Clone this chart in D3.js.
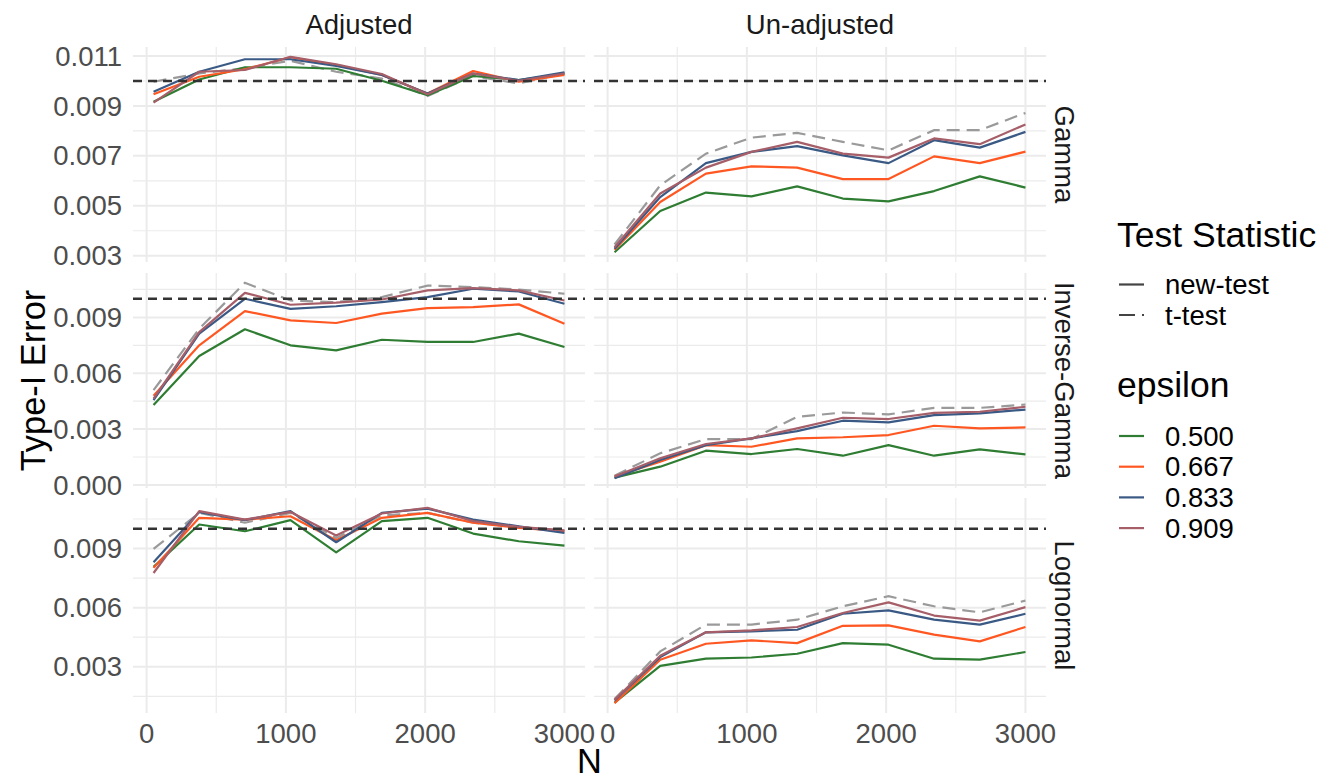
<!DOCTYPE html>
<html>
<head>
<meta charset="utf-8">
<script src="https://cdn.jsdelivr.net/npm/d3@7"></script>
<style>
  body { margin: 0; background: #fff; }
  svg { font-family: "Liberation Sans", Arial, Helvetica, sans-serif; }
</style>
</head>
<body>
<svg id="chart" width="1335" height="781"></svg>
<script>
// sample sizes
const N = [50, 378, 706, 1033, 1361, 1689, 2017, 2344, 2672, 3000];
const epsilons = ["0.500", "0.667", "0.833", "0.909"];
const dists = ["Gamma", "Inverse-Gamma", "Lognormal"];
const adjusts = ["Adjusted", "Un-adjusted"];
const alpha = 0.01;

// new-test, one array per epsilon (0.500, 0.667, 0.833, 0.909)
const gammaAdjNew = [
  [0.00917, 0.01006, 0.01055, 0.01055, 0.01049, 0.01001, 0.00943, 0.01020, 0.01004, 0.01030],
  [0.00947, 0.01017, 0.01047, 0.01095, 0.01064, 0.01024, 0.00950, 0.01040, 0.00997, 0.01024],
  [0.00957, 0.01037, 0.01087, 0.01087, 0.01060, 0.01024, 0.00950, 0.01030, 0.01004, 0.01035],
  [0.00913, 0.01037, 0.01044, 0.01097, 0.01067, 0.01028, 0.00947, 0.01030, 0.01001, 0.01030]
];
const gammaUnNew = [
  [0.00314, 0.00479, 0.00553, 0.00538, 0.00578, 0.00529, 0.00518, 0.00559, 0.00618, 0.00573],
  [0.00324, 0.00515, 0.00629, 0.00658, 0.00653, 0.00607, 0.00607, 0.00698, 0.00671, 0.00717],
  [0.00328, 0.00535, 0.00671, 0.00716, 0.00739, 0.00702, 0.00671, 0.00763, 0.00733, 0.00796],
  [0.00334, 0.00549, 0.00653, 0.00716, 0.00756, 0.00709, 0.00693, 0.00770, 0.00747, 0.00826]
];
const invGammaAdjNew = [
  [0.00429, 0.00693, 0.00836, 0.00750, 0.00723, 0.00780, 0.00768, 0.00768, 0.00813, 0.00741],
  [0.00479, 0.00750, 0.00934, 0.00884, 0.00870, 0.00920, 0.00950, 0.00955, 0.00970, 0.00866],
  [0.00455, 0.00813, 0.01000, 0.00946, 0.00960, 0.00982, 0.01009, 0.01054, 0.01039, 0.00973],
  [0.00464, 0.00821, 0.01032, 0.00968, 0.00979, 0.00996, 0.01045, 0.01057, 0.01045, 0.00991]
];
const invGammaUnNew = [
  [0.00039, 0.00098, 0.00184, 0.00166, 0.00193, 0.00157, 0.00214, 0.00157, 0.00191, 0.00164],
  [0.00045, 0.00125, 0.00214, 0.00205, 0.00250, 0.00256, 0.00268, 0.00318, 0.00304, 0.00309],
  [0.00036, 0.00134, 0.00214, 0.00250, 0.00289, 0.00345, 0.00336, 0.00375, 0.00384, 0.00405],
  [0.00045, 0.00143, 0.00220, 0.00250, 0.00304, 0.00361, 0.00354, 0.00387, 0.00393, 0.00420]
];
const lognormAdjNew = [
  [0.00807, 0.01022, 0.00988, 0.01044, 0.00881, 0.01039, 0.01056, 0.00976, 0.00937, 0.00915],
  [0.00802, 0.01056, 0.01047, 0.01064, 0.00942, 0.01056, 0.01081, 0.01031, 0.01005, 0.00988],
  [0.00830, 0.01085, 0.01044, 0.01090, 0.00932, 0.01081, 0.01103, 0.01047, 0.01013, 0.00980],
  [0.00776, 0.01090, 0.01047, 0.01086, 0.00966, 0.01078, 0.01107, 0.01039, 0.01010, 0.00992]
];
const lognormUnNew = [
  [0.00118, 0.00305, 0.00341, 0.00347, 0.00366, 0.00420, 0.00412, 0.00341, 0.00336, 0.00375],
  [0.00115, 0.00336, 0.00417, 0.00434, 0.00420, 0.00508, 0.00510, 0.00463, 0.00429, 0.00502],
  [0.00129, 0.00349, 0.00475, 0.00480, 0.00488, 0.00569, 0.00586, 0.00539, 0.00514, 0.00569],
  [0.00132, 0.00356, 0.00475, 0.00485, 0.00502, 0.00573, 0.00627, 0.00560, 0.00534, 0.00603]
];

// t-test
const gammaAdjT = [0.00997, 0.01030, 0.01052, 0.01081, 0.01037, 0.01010, 0.00940, 0.01020, 0.00990, 0.01030];
const gammaUnT = [0.00345, 0.00582, 0.00709, 0.00773, 0.00792, 0.00756, 0.00722, 0.00803, 0.00803, 0.00872];
const invGammaAdjT = [0.00509, 0.00839, 0.01086, 0.00991, 0.00982, 0.01009, 0.01071, 0.01063, 0.01050, 0.01027];
const invGammaUnT = [0.00050, 0.00170, 0.00246, 0.00246, 0.00366, 0.00389, 0.00379, 0.00414, 0.00414, 0.00432];
const lognormAdjT = [0.00898, 0.01081, 0.01031, 0.01081, 0.00954, 0.01068, 0.01081, 0.01031, 0.01010, 0.00988];
const lognormUnT = [0.00136, 0.00378, 0.00514, 0.00514, 0.00539, 0.00607, 0.00658, 0.00607, 0.00576, 0.00636];

const newTest = [[gammaAdjNew, gammaUnNew], [invGammaAdjNew, invGammaUnNew], [lognormAdjNew, lognormUnNew]];
const tTest = [[gammaAdjT, gammaUnT], [invGammaAdjT, invGammaUnT], [lognormAdjT, lognormUnT]];

// axis breaks
const xBreaks = [0, 1000, 2000, 3000];
const xMinor = [500, 1500, 2500];
const yBreaks = [
  [0.003, 0.005, 0.007, 0.009, 0.011],
  [0.000, 0.003, 0.006, 0.009],
  [0.003, 0.006, 0.009]
];
const yMinor = [
  [0.004, 0.006, 0.008, 0.010],
  [0.0015, 0.0045, 0.0075, 0.0105],
  [0.0015, 0.0045, 0.0075, 0.0105]
];

const epsColors = ["#2E7D32", "#FF5722", "#3A5A85", "#A65E68"];
const tColor = "#9A9A9A";

const svg = d3.select("#chart");
const colX = [133, 594], panelW = 452;
const rowY = [47, 273, 498], panelH = 215;

function expand(ext) {
  const pad = (ext[1] - ext[0]) * 0.05;
  return [ext[0] - pad, ext[1] + pad];
}

const x = d3.scaleLinear().domain(expand(d3.extent(N))).range([0, panelW]);

const yScales = dists.map((d, r) => {
  const vals = [];
  for (let c = 0; c < 2; c++) {
    newTest[r][c].forEach(s => vals.push(...s));
    vals.push(...tTest[r][c]);
  }
  return d3.scaleLinear().domain(expand(d3.extent(vals))).range([panelH, 0]);
});

const line = (y) => d3.line().x((d, i) => x(N[i])).y(d => y(d));

dists.forEach((dist, r) => {
  const y = yScales[r];
  adjusts.forEach((adj, c) => {
    const g = svg.append("g").attr("transform", `translate(${colX[c]},${rowY[r]})`);

    // grid
    g.selectAll(".ymin").data(yMinor[r]).enter().append("line")
      .attr("x1", 0).attr("x2", panelW).attr("y1", d => y(d)).attr("y2", d => y(d))
      .attr("stroke", "#EBEBEB").attr("stroke-width", 1.2);
    g.selectAll(".xmin").data(xMinor).enter().append("line")
      .attr("y1", 0).attr("y2", panelH).attr("x1", d => x(d)).attr("x2", d => x(d))
      .attr("stroke", "#EBEBEB").attr("stroke-width", 1.2);
    g.selectAll(".ymaj").data(yBreaks[r]).enter().append("line")
      .attr("x1", 0).attr("x2", panelW).attr("y1", d => y(d)).attr("y2", d => y(d))
      .attr("stroke", "#EBEBEB").attr("stroke-width", 2);
    g.selectAll(".xmaj").data(xBreaks).enter().append("line")
      .attr("y1", 0).attr("y2", panelH).attr("x1", d => x(d)).attr("x2", d => x(d))
      .attr("stroke", "#EBEBEB").attr("stroke-width", 2);

    // t-test
    g.append("path").datum(tTest[r][c])
      .attr("d", line(y)).attr("fill", "none")
      .attr("stroke", tColor).attr("stroke-width", 2.2)
      .attr("stroke-dasharray", "13,7");

    // new-test by epsilon
    newTest[r][c].forEach((s, k) => {
      g.append("path").datum(s)
        .attr("d", line(y)).attr("fill", "none")
        .attr("stroke", epsColors[k]).attr("stroke-width", 2.2)
        .attr("stroke-linejoin", "round");
    });

    // nominal level
    g.append("line")
      .attr("x1", 0).attr("x2", panelW).attr("y1", y(alpha)).attr("y2", y(alpha))
      .attr("stroke", "#333").attr("stroke-width", 2.5).attr("stroke-dasharray", "9,6");

    // y axis labels on left column
    if (c === 0) {
      g.selectAll(".ylab").data(yBreaks[r]).enter().append("text")
        .attr("x", -11).attr("y", d => y(d)).attr("dy", "0.35em")
        .attr("text-anchor", "end").attr("font-size", 27.5).attr("fill", "#4D4D4D")
        .text(d => d3.format(".3f")(d));
    }
    // x axis labels on bottom row
    if (r === dists.length - 1) {
      g.selectAll(".xlab").data(xBreaks).enter().append("text")
        .attr("x", d => x(d)).attr("y", panelH + 30)
        .attr("text-anchor", "middle").attr("font-size", 27.5).attr("fill", "#4D4D4D")
        .text(d => d);
    }
    // column strips
    if (r === 0) {
      svg.append("text")
        .attr("x", colX[c] + panelW / 2).attr("y", 34)
        .attr("text-anchor", "middle").attr("font-size", 27.5).attr("fill", "#1A1A1A")
        .text(adj);
    }
  });

  // row strips
  const cy = rowY[r] + panelH / 2;
  svg.append("text")
    .attr("transform", `translate(1055,${cy}) rotate(90)`)
    .attr("text-anchor", "middle").attr("font-size", 27.5).attr("fill", "#1A1A1A")
    .text(dist);
});

// axis titles
svg.append("text")
  .attr("transform", `translate(45,${rowY[1] + panelH / 2}) rotate(-90)`)
  .attr("text-anchor", "middle").attr("font-size", 34.4).attr("fill", "#000")
  .text("Type-I Error");
svg.append("text")
  .attr("x", (colX[0] + colX[1] + panelW) / 2).attr("y", 773)
  .attr("text-anchor", "middle").attr("font-size", 34.4).attr("fill", "#000")
  .text("N");

// legends
const lg = svg.append("g").attr("transform", "translate(1117,0)");
lg.append("text").attr("x", 0).attr("y", 247).attr("font-size", 35.5).attr("fill", "#000").text("Test Statistic");
const testNames = ["new-test", "t-test"];
const testDash = [null, "16,7"];
testNames.forEach((t, i) => {
  const yy = 284.5 + i * 30.5;
  lg.append("line").attr("x1", 2).attr("x2", 27).attr("y1", yy).attr("y2", yy)
    .attr("stroke", "#444").attr("stroke-width", 2.2).attr("stroke-dasharray", testDash[i]);
  lg.append("text").attr("x", 48).attr("y", yy).attr("dy", "0.35em")
    .attr("font-size", 27.5).attr("fill", "#000").text(t);
});
lg.append("text").attr("x", 0).attr("y", 397).attr("font-size", 35.5).attr("fill", "#000").text("epsilon");
epsilons.forEach((e, i) => {
  const yy = 436 + i * 30.7;
  lg.append("line").attr("x1", 2).attr("x2", 27).attr("y1", yy).attr("y2", yy)
    .attr("stroke", epsColors[i]).attr("stroke-width", 2.2);
  lg.append("text").attr("x", 48).attr("y", yy).attr("dy", "0.35em")
    .attr("font-size", 27.5).attr("fill", "#000").text(e);
});
</script>
</body>
</html>
